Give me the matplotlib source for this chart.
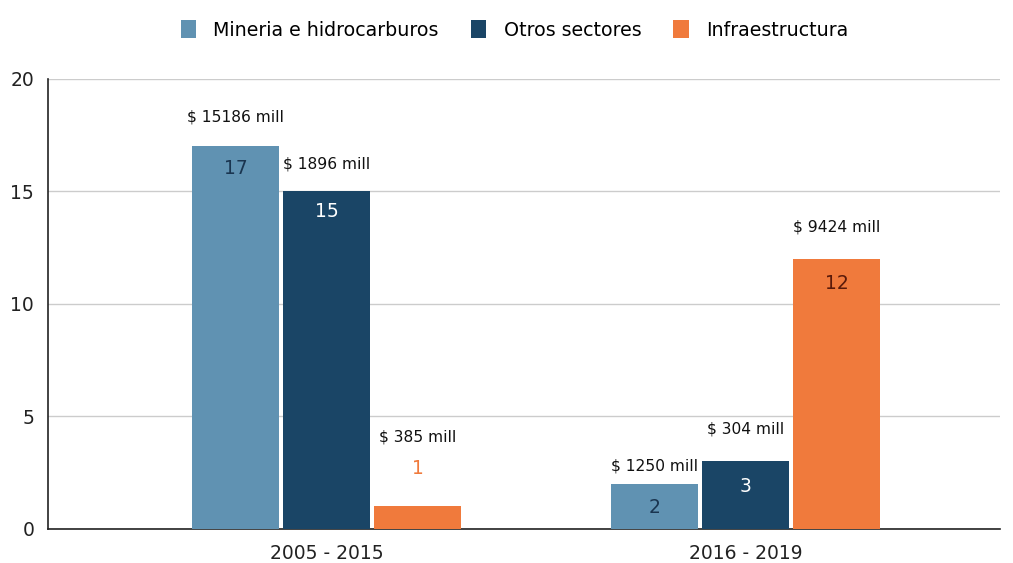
import matplotlib.pyplot as plt
import numpy as np

plt.rcParams['font.family'] = ['DejaVu Sans']

periods = ["2005 - 2015", "2016 - 2019"]
series_names = ["Mineria e hidrocarburos", "Otros sectores", "Infraestructura"]
mineria = [17, 2]
otros = [15, 3]
infra = [1, 12]
mineria_amt = ["$ 15186 mill", "$ 1250 mill"]
otros_amt = ["$ 1896 mill", "$ 304 mill"]
infra_amt = ["$ 385 mill", "$ 9424 mill"]
yticks = [0, 5, 10, 15, 20]

colors = ["#6092b2", "#1a4566", "#f07a3c"]
inner_colors = [["#1a3550", "#1a3550"], ["#ffffff", "#ffffff"], ["#f07a3c", "#5a1a0a"]]
# offsets (data units) of amount labels above bar tops
amt_off = [[1.3, 0.8], [1.2, 1.45], [3.1, 1.4]]
# offsets of count labels relative to bar tops
cnt_off = [[-1.0, -1.05], [-0.9, -1.1], [1.7, -1.1]]

fig = plt.figure(figsize=(10.13, 5.63), dpi=100)
ax = fig.add_axes([0.0474, 0.0604, 0.94, 0.7993])

x = np.arange(len(periods))
w = 0.207
step = 0.217
vals = [mineria, otros, infra]
amts = [mineria_amt, otros_amt, infra_amt]
for i, (v, a) in enumerate(zip(vals, amts)):
    xi = x + (i - 1) * step
    ax.bar(xi, v, width=w, color=colors[i], label=series_names[i], zorder=3)
    for j in range(len(periods)):
        ax.text(xi[j], v[j] + amt_off[i][j], a[j], ha='center', va='center',
                fontsize=11.2, color='#111111', zorder=4)
        ax.text(xi[j], v[j] + cnt_off[i][j], str(v[j]), ha='center', va='center',
                fontsize=13.5, color=inner_colors[i][j], zorder=4)

ax.set_xlim(-0.665, 1.608)
ax.set_ylim(0, 20)
ax.set_yticks(yticks)
ax.set_xticks(x)
ax.set_xticklabels(periods)
ax.tick_params(axis='both', length=0, labelsize=13.5, colors='#222222')
ax.tick_params(axis='y', pad=10)
ax.tick_params(axis='x', pad=11)
ax.grid(axis='y', color='#cccccc', linewidth=1, zorder=0)
for s in ['top', 'right']:
    ax.spines[s].set_visible(False)
ax.spines['left'].set_color('#222222')
ax.spines['bottom'].set_color('#222222')
ax.spines['left'].set_linewidth(1.2)
ax.spines['bottom'].set_linewidth(1.2)

ax.legend(loc='center', bbox_to_anchor=(0.49, 1.109), ncol=3, frameon=False,
          fontsize=13.7, handlelength=0.8, handleheight=1.1, columnspacing=1.7,
          handletextpad=0.9)

fig.savefig("out.png", dpi=100)
